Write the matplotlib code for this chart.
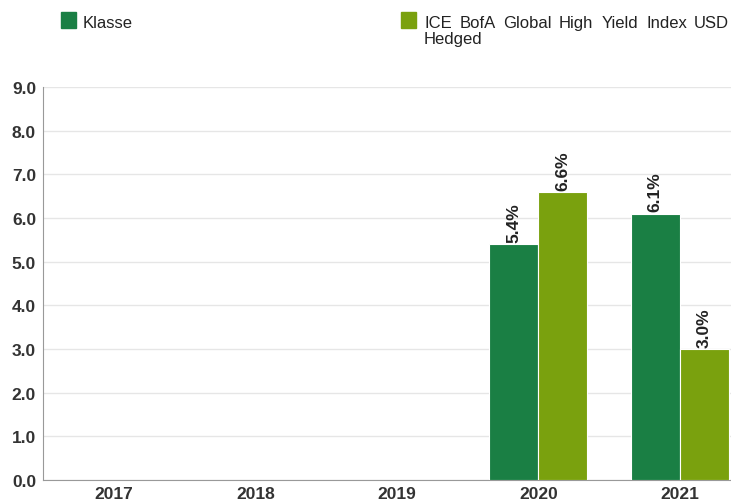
import matplotlib
matplotlib.use("Agg")
import matplotlib.pyplot as plt
from matplotlib.patches import Rectangle

plt.rcParams["font.family"] = ["Liberation Sans", "DejaVu Sans"]

years = ["2017", "2018", "2019", "2020", "2021"]
klasse = [None, None, None, 5.4, 6.1]
index_vals = [None, None, None, 6.6, 3.0]
colors = ["#1a7f44", "#7aa10e"]

W, H = 731, 502

fig = plt.figure(figsize=(W / 100, H / 100), dpi=100)
ax = fig.add_axes([43 / W, 1 - 481 / H, 688 / W, (481 - 88) / H])

width = 0.346
for i, (vals, color) in enumerate(zip([klasse, index_vals], colors)):
    offset = (i - 0.5) * width
    for j, v in enumerate(vals):
        if v is None:
            continue
        x = j + offset
        ax.bar(x, v, width=width, color=color, edgecolor="white", linewidth=0.8, zorder=3)
        ax.text(x, v + 0.05, f"{v:.1f}%", rotation=90, ha="center", va="bottom",
                fontsize=12.5, fontweight="bold", color="#222222", zorder=4)

ax.set_xlim(-0.5, 4.362)
ax.set_ylim(0, 9)
ax.set_yticks(range(10))
ax.set_yticklabels([f"{v:.1f}" for v in range(10)])
ax.set_xticks(range(len(years)))
ax.set_xticklabels(years)
ax.grid(axis="y", color="#e6e6e6", linewidth=1, zorder=0)
for side in ["top", "right"]:
    ax.spines[side].set_visible(False)
for side in ["left", "bottom"]:
    ax.spines[side].set_color("#999999")
ax.tick_params(axis="both", length=0, labelsize=12.5, colors="#333333")
ax.tick_params(axis="y", pad=5)
ax.tick_params(axis="x", pad=4)
for lbl in ax.get_xticklabels() + ax.get_yticklabels():
    lbl.set_fontweight("bold")


def fy(px):
    return 1 - px / H


# legend drawn by hand at the top (second entry is justified like the original)
fig.patches.append(Rectangle((61 / W, fy(29)), 15 / W, 16 / H,
                             transform=fig.transFigure, color=colors[0]))
fig.text(83 / W, fy(28), "Klasse", ha="left", va="baseline", fontsize=12, color="#222222")

fig.patches.append(Rectangle((401 / W, fy(29)), 15 / W, 16 / H,
                             transform=fig.transFigure, color=colors[1]))
words = ["ICE", "BofA", "Global", "High", "Yield", "Index", "USD"]
word_x = [424, 460, 503, 559, 602, 646, 694]
for w, x in zip(words, word_x):
    fig.text(x / W, fy(28), w, ha="left", va="baseline", fontsize=12, color="#222222")
fig.text(424 / W, fy(44), "Hedged", ha="left", va="baseline", fontsize=12, color="#222222")

fig.savefig("out.png", dpi=100)
